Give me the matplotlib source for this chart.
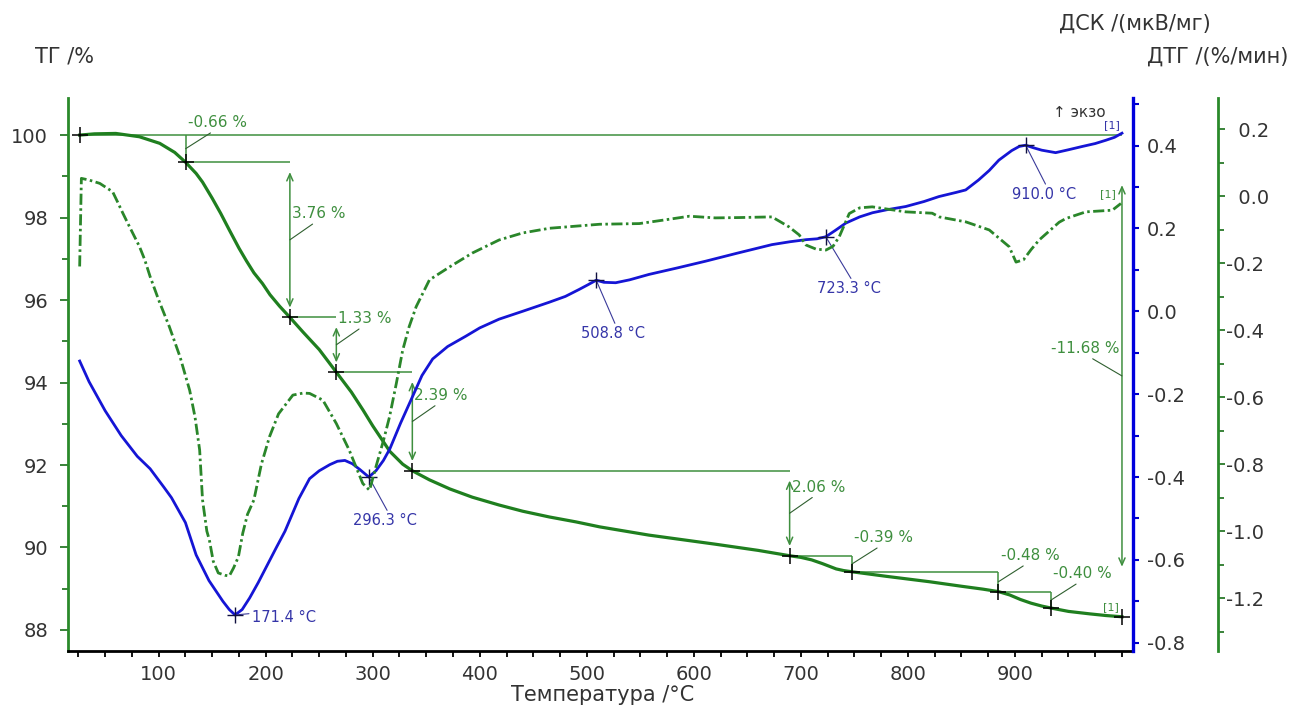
import matplotlib.pyplot as plt
from matplotlib.ticker import MultipleLocator, FixedLocator, FuncFormatter

plt.rcParams['font.family'] = ['DejaVu Sans']
plt.rcParams['axes.unicode_minus'] = False
plt.rcParams['lines.scale_dashes'] = False

# ---- TG, % ----
tg_temp = [26.2, 40, 60, 82, 101, 115, 125.2, 135, 141, 150, 158, 166, 175, 182, 189, 197,
           204, 213, 222.6, 235, 250, 266, 280, 291, 300, 316, 328, 337, 353, 372, 393,
           418, 440, 465, 490, 512, 558, 620, 660, 689.5, 700, 710, 720, 733, 740, 748,
           780, 820, 850, 870, 884.6, 895, 905, 915, 925, 934, 950, 970, 985, 1000]
tg_mass = [100.00, 100.03, 100.04, 99.96, 99.80, 99.58, 99.34, 99.07, 98.86, 98.47, 98.10,
           97.70, 97.26, 96.95, 96.66, 96.40, 96.13, 95.85, 95.58, 95.22, 94.80, 94.25,
           93.77, 93.33, 92.95, 92.33, 92.02, 91.86, 91.64, 91.42, 91.22, 91.03, 90.88,
           90.74, 90.62, 90.50, 90.30, 90.08, 89.93, 89.80, 89.76, 89.70, 89.61, 89.48,
           89.44, 89.41, 89.30, 89.17, 89.06, 88.99, 88.93, 88.85, 88.74, 88.65, 88.58,
           88.53, 88.45, 88.39, 88.35, 88.32]

# ---- DSC, mkV/mg ----
dsc_temp = [26.2, 35, 50, 65, 80, 92, 105, 112, 125, 135, 147, 160, 166, 171.4, 178, 185,
            193, 201.6, 210, 218, 231, 241, 250, 260, 267, 274, 281, 288, 296.3, 303, 310,
            316, 326, 337.5, 346, 356, 370, 387, 400, 418, 440, 465, 480, 493, 501, 508.8,
            516, 527, 540, 558, 585, 611, 640, 673, 690, 705, 715, 723.3, 732, 742, 755,
            767, 780, 798, 815, 829, 845, 854, 866, 876, 885, 897, 904, 910, 917, 925, 938,
            950, 963, 975, 985, 993, 1000]
dsc_val = [-0.12, -0.17, -0.24, -0.30, -0.35, -0.38, -0.425, -0.45, -0.51, -0.588, -0.65,
           -0.70, -0.72, -0.733, -0.72, -0.692, -0.655, -0.612, -0.57, -0.531, -0.452,
           -0.404, -0.385, -0.37, -0.362, -0.36, -0.368, -0.382, -0.40, -0.385, -0.36,
           -0.332, -0.27, -0.204, -0.155, -0.115, -0.085, -0.06, -0.04, -0.019, 0.0,
           0.022, 0.036, 0.053, 0.064, 0.075, 0.07, 0.069, 0.076, 0.089, 0.105, 0.121,
           0.14, 0.161, 0.168, 0.173, 0.175, 0.18, 0.195, 0.213, 0.228, 0.238, 0.245,
           0.253, 0.265, 0.277, 0.287, 0.293, 0.317, 0.34, 0.365, 0.388, 0.398, 0.401,
           0.395, 0.389, 0.383, 0.39, 0.398, 0.405, 0.413, 0.42, 0.43]

# ---- DTG, %/min ----
dtg_temp = [26.2, 27.8, 35, 45, 57, 62, 66.4, 71, 75.7, 82, 87, 92, 100, 110, 120, 129,
            134, 138.3, 141, 145, 147.4, 151, 155.7, 162, 166, 170, 174.5, 178.6, 183,
            189, 196, 203.6, 212, 225.4, 235, 241, 253.4, 266, 278, 290.7, 297, 303, 310,
            315.7, 322, 328, 334, 340.6, 353, 372, 393, 418, 440, 465, 512, 549, 575,
            595.8, 620, 642.5, 673, 689, 698.5, 704.8, 714, 723.4, 730, 735.9, 745.2, 755,
            766.7, 798, 822.7, 829.2, 854.2, 876, 894.6, 901, 908, 915, 922.6, 941.3,
            947.5, 966.2, 991, 999]
dtg_val = [-0.21, 0.053, 0.048, 0.038, 0.013, -0.02, -0.05, -0.08, -0.11, -0.15, -0.19,
           -0.24, -0.31, -0.39, -0.48, -0.58, -0.66, -0.758, -0.907, -1.0, -1.027, -1.09,
           -1.125, -1.132, -1.134, -1.11, -1.077, -1.006, -0.95, -0.907, -0.80, -0.718,
           -0.65, -0.594, -0.588, -0.589, -0.609, -0.679, -0.758, -0.858, -0.878, -0.808,
           -0.73, -0.659, -0.56, -0.46, -0.39, -0.33, -0.25, -0.211, -0.17, -0.131, -0.11,
           -0.096, -0.084, -0.082, -0.07, -0.06, -0.065, -0.064, -0.062, -0.092, -0.116,
           -0.146, -0.158, -0.161, -0.15, -0.121, -0.052, -0.035, -0.032, -0.047, -0.051,
           -0.062, -0.077, -0.101, -0.151, -0.197, -0.19, -0.16, -0.131, -0.078, -0.067,
           -0.047, -0.042, -0.022]

# mass-loss steps: evaluation points on TG and the printed step values
step_temp = [26.2, 125.2, 222.6, 266.0, 337.0, 689.5, 748.0, 884.6, 934.0, 1000.0]
step_mass = [100.0, 99.34, 95.58, 94.25, 91.86, 89.80, 89.41, 88.93, 88.53, 88.32]
step_labels = ['-0.66 %', '3.76 %', '1.33 %', '2.39 %', '2.06 %', '-0.39 %', '-0.48 %', '-0.40 %']
total_label = '-11.68 %'

# DSC peak temperatures
peak_temp = [171.4, 296.3, 508.8, 723.3, 910.0]
peak_dsc = [-0.733, -0.40, 0.075, 0.18, 0.401]

green = '#1f7f1f'
green_ann = '#3f8f3f'
blue = '#1515d5'
txt = '#333333'

fig = plt.figure(figsize=(13.09, 7.11), dpi=100)
ax = fig.add_axes([0.0517, 0.0844, 0.8136, 0.7778])
ax_dsc = ax.twinx()
ax_dtg = ax.twinx()

# curves
ax.plot(tg_temp, tg_mass, color=green, lw=2.3, zorder=3)
ax_dsc.plot(dsc_temp, dsc_val, color=blue, lw=2.0)
ax_dtg.plot(dtg_temp, dtg_val, color='#2a862a', lw=2.0, dashes=(8, 2.5, 1.8, 2.5))

# limits
ax.set_xlim(15, 1010)
ax.set_ylim(87.49, 100.9)
ax_dsc.set_ylim(-0.82, 0.515)
ax_dtg.set_ylim(-1.358, 0.293)

# spines
for a in (ax, ax_dsc, ax_dtg):
    for s in a.spines.values():
        s.set_visible(False)
ax.spines['left'].set_visible(True)
ax.spines['left'].set_color('#2a8a2a')
ax.spines['left'].set_linewidth(2.0)
ax.spines['bottom'].set_visible(True)
ax.spines['bottom'].set_color('black')
ax.spines['bottom'].set_linewidth(2.0)
ax_dsc.spines['right'].set_visible(True)
ax_dsc.spines['right'].set_color('#0000dd')
ax_dsc.spines['right'].set_linewidth(2.4)
ax_dtg.spines['right'].set_visible(True)
ax_dtg.spines['right'].set_position(('axes', 1.080))
ax_dtg.spines['right'].set_color('#2a8a2a')
ax_dtg.spines['right'].set_linewidth(2.0)

# ticks
ax.xaxis.set_major_locator(FixedLocator(range(100, 1000, 100)))
ax.xaxis.set_minor_locator(MultipleLocator(25))
ax.tick_params(axis='x', which='both', direction='out', length=4, width=1.3,
               color='black', pad=6, labelsize=14, labelcolor=txt)
ax.yaxis.set_major_locator(MultipleLocator(2))
ax.yaxis.set_minor_locator(MultipleLocator(1))
ax.tick_params(axis='y', which='major', length=6, width=1.3, color='#2a7a2a',
               pad=8, labelsize=14, labelcolor=txt)
ax.tick_params(axis='y', which='minor', length=4, width=1.3, color='#2a7a2a')

ax_dsc.yaxis.set_major_locator(MultipleLocator(0.2))
ax_dsc.yaxis.set_minor_locator(MultipleLocator(0.1))
ax_dsc.yaxis.set_major_formatter(FuncFormatter(lambda v, p: f'{v:.1f}'))
ax_dsc.tick_params(axis='y', which='major', length=4, width=1.5, color='#0000cc',
                   pad=6, labelsize=14, labelcolor=txt)
ax_dsc.tick_params(axis='y', which='minor', length=4, width=1.5, color='#0000cc')

ax_dtg.yaxis.set_major_locator(MultipleLocator(0.2))
ax_dtg.yaxis.set_minor_locator(MultipleLocator(0.1))
ax_dtg.yaxis.set_major_formatter(
    FuncFormatter(lambda v, p: f'{v:.1f}' if v < -0.01 else '\u2007' + f'{abs(v):.1f}'))
ax_dtg.tick_params(axis='y', which='major', length=5, width=1.3, color='#2a7a2a',
                   pad=1, labelsize=14, labelcolor=txt)
ax_dtg.tick_params(axis='y', which='minor', length=4, width=1.3, color='#2a7a2a')

# TG step evaluation
ax.hlines(step_mass[0], step_temp[0], step_temp[-1], color=green_ann, lw=1.1)
ax.plot(step_temp, step_mass, ls='none', marker='+', ms=11, mew=1.1, color='black', zorder=4)
arrows = [False, True, True, True, True, False, False, False]
for i, lab in enumerate(step_labels):
    t = step_temp[i + 1]
    top, bot = step_mass[i], step_mass[i + 1]
    if arrows[i]:
        ax.annotate('', xy=(t, bot), xytext=(t, top),
                    arrowprops=dict(arrowstyle='<->,head_length=0.5,head_width=0.22',
                                    color=green_ann, lw=1.1, shrinkA=7, shrinkB=7))
    else:
        ax.vlines(t, bot, top, color=green_ann, lw=1.1)
    if i + 2 < len(step_temp) - 1:
        ax.hlines(bot, t, step_temp[i + 2], color=green_ann, lw=1.1)
    ax.annotate(lab, xy=(t, (top + bot) / 2), xytext=(1.5, 15.5), textcoords='offset points',
                ha='left', va='baseline', fontsize=11, color=green_ann,
                arrowprops=dict(arrowstyle='-', color='#2f5f2f', lw=0.8,
                                shrinkA=0, shrinkB=0, relpos=(0.5, 0.1)))

# total mass loss
t_end = step_temp[-1]
ax.annotate('', xy=(t_end, step_mass[-1]), xytext=(t_end, step_mass[0]),
            arrowprops=dict(arrowstyle='<->,head_length=0.5,head_width=0.22',
                            color=green_ann, lw=1.1, shrinkA=36, shrinkB=36))
ax.annotate(total_label, xy=(t_end, (step_mass[0] + step_mass[-1]) / 2),
            xytext=(-51, 16.5), textcoords='offset points', ha='left', va='baseline',
            fontsize=11, color=green_ann,
            arrowprops=dict(arrowstyle='-', color='#2f5f2f', lw=0.8,
                            shrinkA=0, shrinkB=0, relpos=(0.5, 0.1)))

# DSC peaks
ax_dsc.plot(peak_temp, peak_dsc, ls='none', marker='+', ms=11, mew=1.0, color='#101040', zorder=4)
peak_offsets = [(12, -2), (12, -26), (12, -33), (17, -32), (13, -30)]
for t, v, off in zip(peak_temp, peak_dsc, peak_offsets):
    first = t == peak_temp[0]
    ax_dsc.annotate(f'{t:.1f} °C', xy=(t, v), xytext=off, textcoords='offset points',
                    ha='left' if first else 'center', va='center' if first else 'top',
                    fontsize=10.5, color='#3535a8',
                    arrowprops=dict(arrowstyle='-', color='#3a3a9a', lw=0.8, shrinkA=0,
                                    shrinkB=0, relpos=(0.55, 1.0)))

# curve end labels
ax_dsc.annotate('[1]', xy=(dsc_temp[-1], dsc_val[-1]), xytext=(-7, 6),
                textcoords='offset points', ha='center', va='center', fontsize=8, color='#3535a8')
ax_dtg.annotate('[1]', xy=(dtg_temp[-1], dtg_val[-1]), xytext=(-9, 7),
                textcoords='offset points', ha='center', va='center', fontsize=8, color=green_ann)
ax.annotate('[1]', xy=(tg_temp[-1], tg_mass[-1]), xytext=(-8, 7),
            textcoords='offset points', ha='center', va='center', fontsize=8, color=green_ann)

ax.text(0.925, 0.966, '↑ экзо', transform=ax.transAxes, fontsize=11, color=txt,
        ha='left', va='baseline')

# axis titles
fig.text(0.0267, 0.912, 'ТГ /%', fontsize=15, color=txt, ha='left', va='baseline')
fig.text(0.925, 0.958, 'ДСК /(мкВ/мг)', fontsize=15, color=txt, ha='right', va='baseline')
fig.text(0.984, 0.912, 'ДТГ /(%/мин)', fontsize=15, color=txt, ha='right', va='baseline')
fig.text(0.46, 0.022, 'Температура /°C', fontsize=15, color=txt, ha='center', va='center')

fig.savefig('out.png', dpi=100)
